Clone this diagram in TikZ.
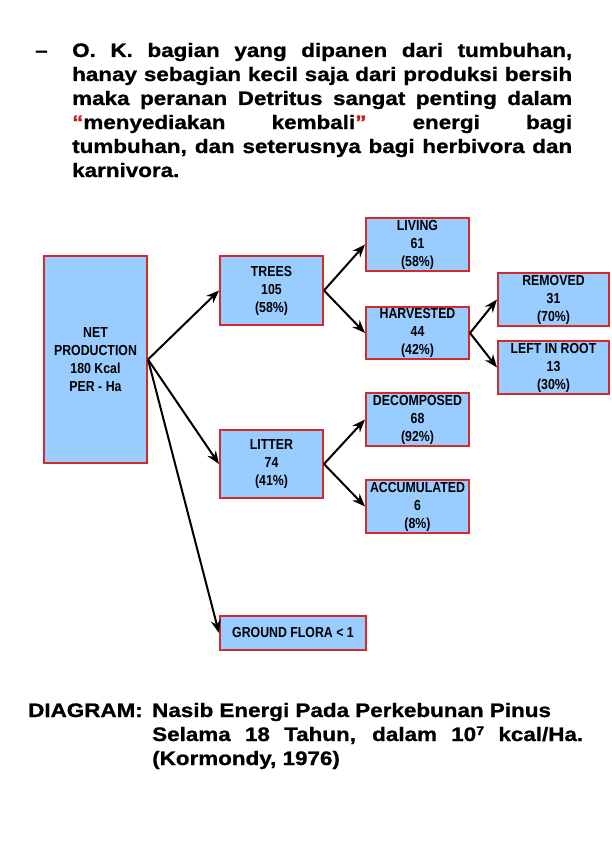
\documentclass[tikz,border=0pt]{standalone}
\usepackage{fontspec}
\setmainfont{Liberation Sans}
\newfontfamily\topfont[FakeStretch=1.15,FakeBold=1]{Liberation Sans}
\newfontfamily\boxfont[FakeStretch=0.85]{Liberation Sans}
\usetikzlibrary{arrows.meta}
\definecolor{boxfill}{HTML}{99CCFF}
\definecolor{boxline}{HTML}{D42A2A}
\definecolor{quotered}{HTML}{D01818}
\begin{document}
\begin{tikzpicture}[x=1pt,y=-1pt,
  box/.style={draw=boxline, line width=2pt, fill=boxfill, align=center, inner sep=0pt,
    font=\boxfont\bfseries\fontsize{14.5}{18}\selectfont},
  arr/.style={-{Stealth[length=13pt,width=10pt]}, line width=2pt},
  toptxt/.style={anchor=base west, inner sep=0pt, font=\topfont\bfseries\fontsize{19.5}{23.8}\selectfont}]
\fill[white] (0,0) rectangle (612,864);
\useasboundingbox (0,0) rectangle (612,864);

% top paragraph
\node[toptxt] (dash) at (35,57) {–};
\node[toptxt] (t1) at (72,57) {\makebox[500pt][s]{O. K. bagian yang dipanen dari tumbuhan,}};
\node[toptxt] (t2) at (72,81) {\makebox[500pt][s]{hanay sebagian kecil saja dari produksi bersih}};
\node[toptxt] (t3) at (72,105) {\makebox[500pt][s]{maka peranan Detritus sangat penting dalam}};
\node[toptxt] (t4) at (72,129) {\makebox[500pt][s]{\textcolor{quotered}{“}menyediakan kembali\textcolor{quotered}{”} energi bagi}};
\node[toptxt] (t5) at (72,153) {\makebox[500pt][s]{tumbuhan, dan seterusnya bagi herbivora dan}};
\node[toptxt] (t6) at (72,177) {karnivora.};

% boxes
\node[box, minimum width=103pt, minimum height=207pt] (net) at (95.5,359.5) {NET\\PRODUCTION\\180 Kcal\\PER - Ha};
\node[box, minimum width=103pt, minimum height=69pt] (trees) at (271.5,290.5) {TREES\\105\\(58\%)};
\node[box, minimum width=103pt, minimum height=68pt] (litter) at (271.5,464) {LITTER\\74\\(41\%)};
\node[box, minimum width=146pt, minimum height=34pt] (ground) at (293,633) {GROUND FLORA < 1};
\node[box, minimum width=103pt, minimum height=53pt] (living) at (417.5,244.5) {LIVING\\61\\(58\%)};
\node[box, minimum width=103pt, minimum height=52pt] (harv) at (417.5,333) {HARVESTED\\44\\(42\%)};
\node[box, minimum width=103pt, minimum height=53pt] (decomp) at (417.5,419.5) {DECOMPOSED\\68\\(92\%)};
\node[box, minimum width=103pt, minimum height=53pt] (accum) at (417.5,506.5) {ACCUMULATED\\6\\(8\%)};
\node[box, minimum width=111pt, minimum height=53pt] (removed) at (553.5,299.5) {REMOVED\\31\\(70\%)};
\node[box, minimum width=111pt, minimum height=53pt] (left) at (553.5,367.5) {LEFT IN ROOT\\13\\(30\%)};

% arrows
\draw[arr] (net.east) -- (trees.west);
\draw[arr] (net.east) -- (litter.west);
\draw[arr] (net.east) -- (ground.west);
\draw[arr] (trees.east) -- (living.west);
\draw[arr] (trees.east) -- (harv.west);
\draw[arr] (harv.east) -- (removed.west);
\draw[arr] (harv.east) -- (left.west);
\draw[arr] (litter.east) -- (decomp.west);
\draw[arr] (litter.east) -- (accum.west);

% caption
\node[toptxt] (cap0) at (28,717) {DIAGRAM:};
\node[toptxt] (cap1) at (152,717) {Nasib Energi Pada Perkebunan Pinus};
\node[toptxt] (cap2) at (152,741) {\makebox[431pt][s]{Selama 18 Tahun, dalam 10\raisebox{6pt}{\fontsize{12.5}{12}\selectfont 7} kcal/Ha.}};
\node[toptxt] (cap3) at (152,765) {(Kormondy, 1976)};
\end{tikzpicture}
\end{document}
